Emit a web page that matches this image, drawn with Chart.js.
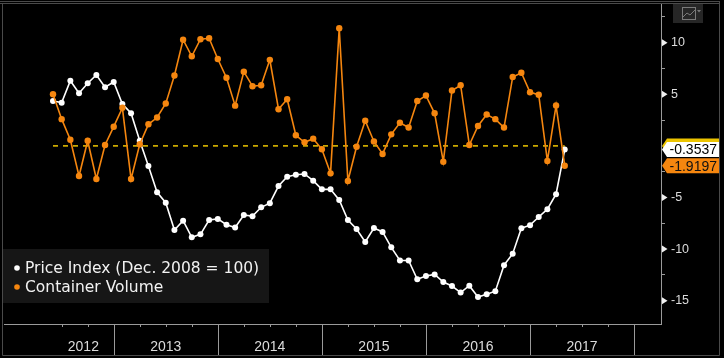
<!DOCTYPE html>
<html>
<head>
<meta charset="utf-8">
<script src="https://cdn.jsdelivr.net/npm/chart.js@4.4.1/dist/chart.umd.min.js"></script>
<style>
  html, body { margin: 0; padding: 0; background: #000; }
  #wrap { width: 724px; height: 358px; position: relative; }
</style>
</head>
<body>
<div id="wrap"><canvas id="canvas-price-volume"></canvas></div>
<script>
const months = [
  '2012-06', '2012-07', '2012-08', '2012-09', '2012-10', '2012-11', '2012-12',
  '2013-01', '2013-02', '2013-03', '2013-04', '2013-05', '2013-06',
  '2013-07', '2013-08', '2013-09', '2013-10', '2013-11', '2013-12',
  '2014-01', '2014-02', '2014-03', '2014-04', '2014-05', '2014-06',
  '2014-07', '2014-08', '2014-09', '2014-10', '2014-11', '2014-12',
  '2015-01', '2015-02', '2015-03', '2015-04', '2015-05', '2015-06',
  '2015-07', '2015-08', '2015-09', '2015-10', '2015-11', '2015-12',
  '2016-01', '2016-02', '2016-03', '2016-04', '2016-05', '2016-06',
  '2016-07', '2016-08', '2016-09', '2016-10', '2016-11', '2016-12',
  '2017-01', '2017-02', '2017-03', '2017-04', '2017-05'
];

const priceIndex = [
  4.35, 4.19, 6.32, 5.10, 6.07, 6.87, 5.68, 6.19, 4.06, 3.16,
  0.50, -1.95, -4.50, -5.50, -8.15, -7.25, -8.86, -8.57, -7.18, -7.08,
  -7.64, -7.91, -6.70, -6.81, -5.95, -5.55, -3.89, -2.98, -2.79, -2.72,
  -3.37, -4.21, -4.21, -5.24, -7.18, -8.05, -9.31, -7.96, -8.34, -9.83,
  -11.10, -11.10, -12.92, -12.61, -12.46, -13.19, -13.58, -14.21, -13.55, -14.64,
  -14.38, -14.08, -11.56, -10.45, -7.98, -7.68, -6.89, -6.13, -4.68, -0.3537
];

const containerVolume = [
  5.01, 2.59, 0.60, -2.92, 0.50, -3.21, 0.09, 1.86, 3.69, -3.21,
  0.16, 2.09, 2.75, 4.11, 6.82, 10.29, 8.68, 10.34, 10.43, 8.42,
  6.61, 3.90, 7.19, 5.78, 5.87, 8.34, 3.55, 4.52, 1.03, 0.35,
  0.70, -0.33, -2.66, 11.40, -3.40, -0.08, 2.44, 0.43, -0.78, 1.12,
  2.24, 1.78, 4.35, 4.88, 3.16, -1.53, 5.37, 5.88, 0.09, 1.93,
  3.04, 2.59, 1.78, 6.68, 7.09, 5.20, 4.96, -1.46, 3.91, -1.9197
];

const years = ['2012', '2013', '2014', '2015', '2016', '2017'];
const yLabelTicks = [-15, -10, -5, 5, 10];
const zeroLevel = 0;

const WHITE = '#ffffff';
const ORANGE = '#f5860f';
const YELLOW = '#ecc400';
const AXIS = '#9a9a9a';

// month number counted from Jan 2012
const monthNum = s => {
  const [yy, mm] = s.split('-').map(Number);
  return (yy - 2012) * 12 + (mm - 1);
};
const xs = months.map(monthNum);
const firstMonth = xs[0];
const lastMonth = xs[xs.length - 1];

const decorations = {
  id: 'decorations',
  afterDraw(chart) {
    const {ctx, chartArea: area, scales: {x, y}} = chart;
    ctx.save();

    // outer frame
    ctx.strokeStyle = '#4a4a4a';
    ctx.lineWidth = 1;
    ctx.beginPath();
    ctx.moveTo(0, 1.5); ctx.lineTo(720, 1.5);
    ctx.moveTo(0, 3.5); ctx.lineTo(720, 3.5);
    ctx.moveTo(2.5, 3.5); ctx.lineTo(2.5, 355.5);
    ctx.moveTo(719.5, 1.5); ctx.lineTo(719.5, 355.5);
    ctx.moveTo(2.5, 355.5); ctx.lineTo(719.5, 355.5);
    ctx.stroke();

    // x axis year separators and quarter ticks
    ctx.strokeStyle = AXIS;
    ctx.beginPath();
    for (let m = 3; m <= 72; m += 3) {
      if (m < firstMonth) continue;
      const px = Math.round(x.getPixelForValue(m)) + 0.5;
      ctx.moveTo(px, area.bottom);
      ctx.lineTo(px, m % 12 === 0 ? 355 : area.bottom + 3);
    }
    ctx.stroke();

    // y axis arrows at labelled ticks
    ctx.fillStyle = '#f0f0f0';
    yLabelTicks.forEach(v => {
      const py = y.getPixelForValue(v);
      ctx.beginPath();
      ctx.moveTo(area.right + 1, py - 3.5);
      ctx.lineTo(area.right + 6.5, py);
      ctx.lineTo(area.right + 1, py + 3.5);
      ctx.closePath();
      ctx.fill();
    });

    // legend
    ctx.fillStyle = '#161616';
    ctx.fillRect(3, 249, 266, 54);
    ctx.font = '15.5px "DejaVu Sans"';
    ctx.textBaseline = 'middle';
    const legendRows = [[chart.data.datasets[0], 268], [chart.data.datasets[1], 287]];
    legendRows.forEach(([ds, ly]) => {
      ctx.fillStyle = ds.borderColor;
      ctx.beginPath();
      ctx.arc(17, ly, 2.8, 0, Math.PI * 2);
      ctx.fill();
      ctx.fillStyle = '#f2f2f2';
      ctx.fillText(ds.label, 25, ly + 1);
    });

    // last value tags
    const tag = (val, fill, color, text) => {
      const py = y.getPixelForValue(val);
      const h = 15;
      ctx.fillStyle = fill;
      ctx.beginPath();
      ctx.moveTo(area.right + 1, py);
      ctx.lineTo(area.right + 6, py - h / 2);
      ctx.lineTo(719, py - h / 2);
      ctx.lineTo(719, py + h / 2);
      ctx.lineTo(area.right + 6, py + h / 2);
      ctx.closePath();
      ctx.fill();
      if (text) {
        ctx.fillStyle = color;
        ctx.font = '14px "Liberation Sans"';
        ctx.textAlign = 'right';
        ctx.textBaseline = 'middle';
        ctx.fillText(text, 717, py + 1);
        ctx.textAlign = 'left';
      }
    };
    tag(zeroLevel, YELLOW, '#000', '');
    const lastP = priceIndex[priceIndex.length - 1];
    const lastC = containerVolume[containerVolume.length - 1];
    tag(lastP, WHITE, '#000', lastP.toFixed(4));
    tag(lastC, ORANGE, '#111', lastC.toFixed(4));

    // chart type icon
    ctx.fillStyle = '#262626';
    ctx.fillRect(673, 4, 30, 19);
    ctx.strokeStyle = '#7a7a7a';
    ctx.strokeRect(682.5, 7.5, 13, 12);
    ctx.beginPath();
    ctx.moveTo(683, 17); ctx.lineTo(687, 13); ctx.lineTo(690, 15); ctx.lineTo(695, 10);
    ctx.stroke();
    ctx.beginPath();
    ctx.moveTo(697, 10); ctx.lineTo(701, 10); ctx.lineTo(699, 12.5); ctx.closePath();
    ctx.fillStyle = '#7a7a7a';
    ctx.fill();

    ctx.restore();
  }
};

const chartPriceVolume = document.getElementById('canvas-price-volume');

new Chart(chartPriceVolume, {
  type: 'line',
  data: {
    datasets: [{
      label: 'Price Index (Dec. 2008 = 100)',
      data: xs.map((m, i) => ({x: m, y: priceIndex[i]})),
      borderColor: WHITE,
      backgroundColor: WHITE,
      borderWidth: 1.6,
      pointRadius: 3,
      pointBorderWidth: 0,
      tension: 0,
      order: 1
    }, {
      label: 'Container Volume',
      data: xs.map((m, i) => ({x: m, y: containerVolume[i]})),
      borderColor: ORANGE,
      backgroundColor: ORANGE,
      borderWidth: 1.6,
      pointRadius: 3.2,
      pointBorderWidth: 0,
      tension: 0,
      order: 0
    }, {
      label: 'zero',
      data: [{x: firstMonth, y: zeroLevel}, {x: lastMonth, y: zeroLevel}],
      borderColor: YELLOW,
      borderWidth: 1.5,
      borderDash: [5, 5],
      pointRadius: 0,
      order: 2
    }]
  },
  options: {
    responsive: true,
    maintainAspectRatio: false,
    animation: false,
    layout: { padding: { left: 2, top: 4, right: 0, bottom: 0 } },
    plugins: {
      legend: { display: false },
      tooltip: { enabled: false }
    },
    scales: {
      x: {
        type: 'linear',
        min: -0.65,
        max: 75.1,
        grid: { display: false, drawTicks: false },
        border: { display: true, color: AXIS, width: 1 },
        afterBuildTicks: (scale) => {
          scale.ticks = years.map((yr, k) => ({
            value: (Math.max(12 * k, firstMonth) + 12 * k + 12) / 2
          }));
        },
        afterFit: (scale) => {
          scale.height = 34;
          scale.paddingLeft = 0;
          scale.paddingRight = 0;
        },
        ticks: {
          autoSkip: false,
          maxRotation: 0,
          padding: 15,
          color: '#dcdcdc',
          font: { family: '"Liberation Sans"', size: 14 },
          callback: (v, i) => years[i]
        }
      },
      y: {
        position: 'right',
        min: -17.26,
        max: 13.75,
        grid: {
          drawOnChartArea: false,
          drawTicks: true,
          tickLength: 4,
          color: (c) => (c.tick && c.tick.value % 5 === 0) ? 'transparent' : AXIS
        },
        border: { display: true, color: AXIS, width: 1 },
        afterBuildTicks: (scale) => {
          const t = [];
          for (let v = -15; v <= 12.5; v += 2.5) t.push({value: v});
          scale.ticks = t;
        },
        afterFit: (scale) => {
          scale.width = 63;
          scale.paddingTop = 0;
          scale.paddingBottom = 0;
        },
        ticks: {
          padding: 6,
          color: '#dcdcdc',
          font: { family: '"Liberation Sans"', size: 12.5 },
          callback: (v) => yLabelTicks.includes(v) ? String(v) : ''
        }
      }
    }
  },
  plugins: [decorations]
});
</script>
</body>
</html>
